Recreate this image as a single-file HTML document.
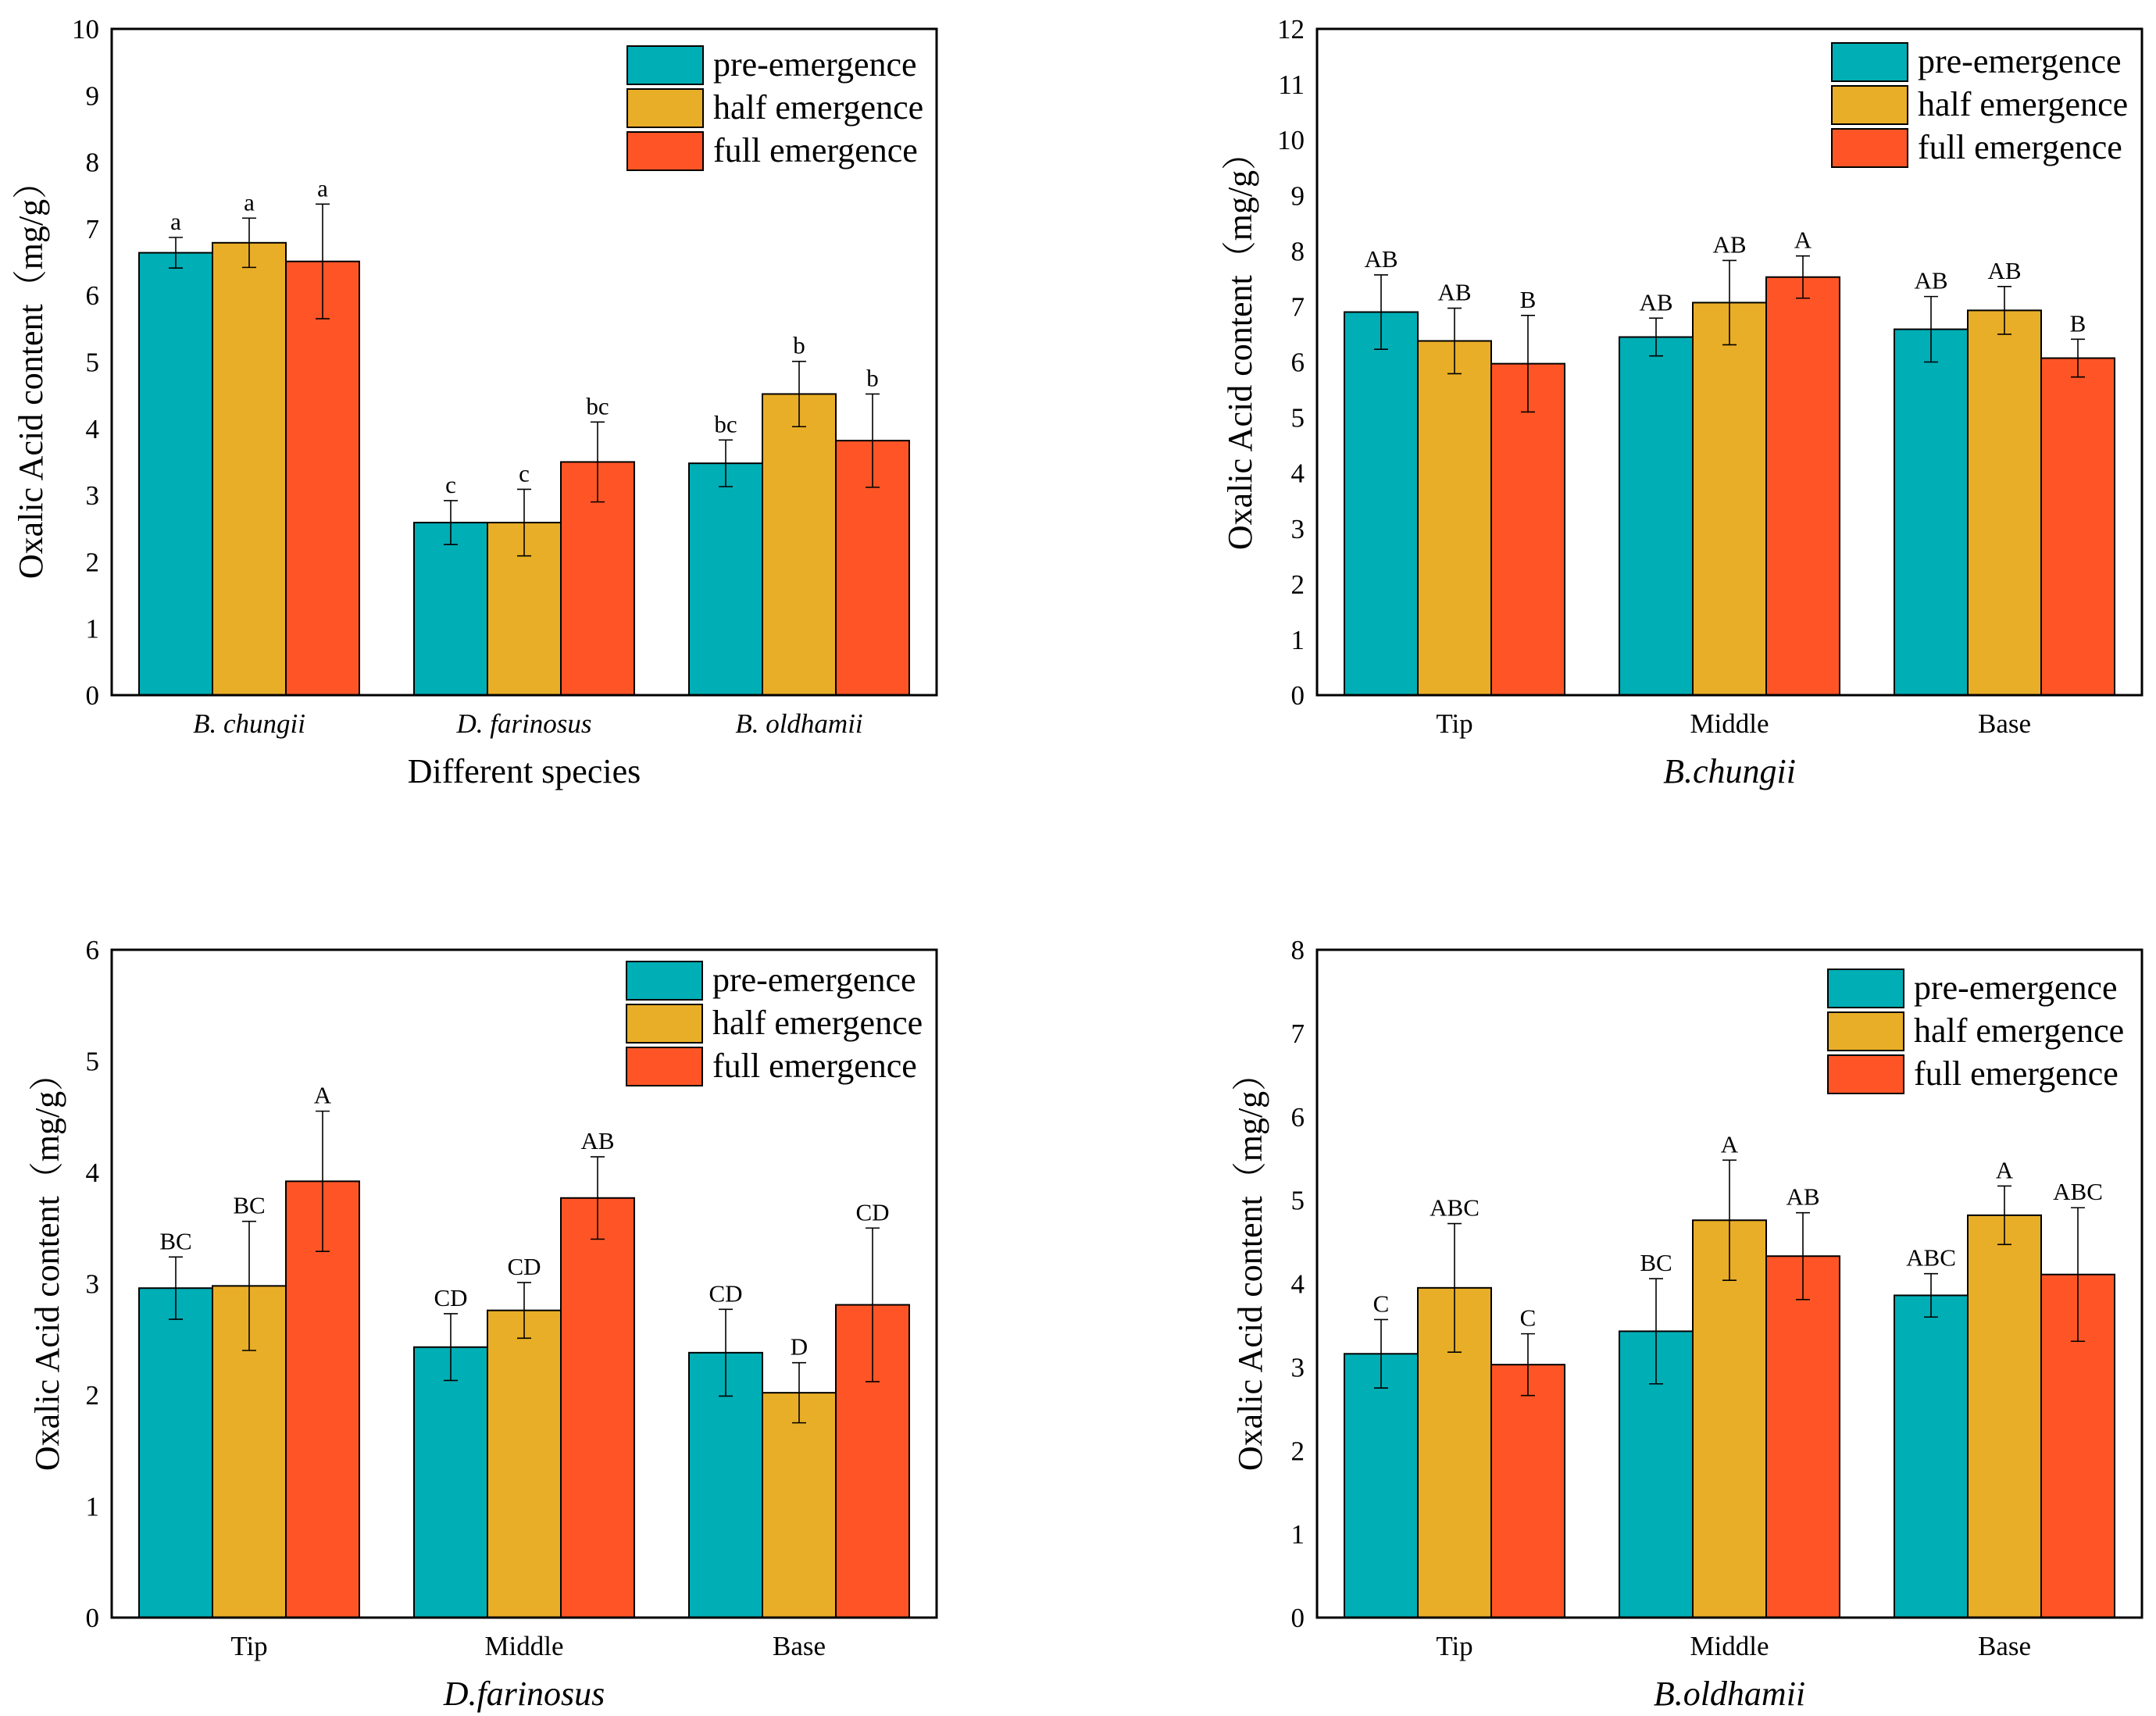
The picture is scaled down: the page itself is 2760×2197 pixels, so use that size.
<!DOCTYPE html>
<html><head><meta charset="utf-8"><style>
html,body{margin:0;padding:0;background:#fff}
svg{display:block}
svg text{font-family:"Liberation Serif","DejaVu Serif","Noto Serif CJK SC",serif}
</style></head><body>
<svg id="fig" width="2760" height="2197" viewBox="0 0 2760 2197" xmlns="http://www.w3.org/2000/svg" font-family="Liberation Serif, DejaVu Serif, serif"></svg>
<script>
// ---- data ----
const seriesNames = ["pre-emergence", "half emergence", "full emergence"];
const p1Categories = ["B. chungii", "D. farinosus", "B. oldhamii"];
const p1Values = [[6.64, 6.79, 6.51], [2.59, 2.59, 3.50], [3.48, 4.52, 3.82]];
const p1Errors = [[0.23, 0.37, 0.86], [0.33, 0.50, 0.60], [0.35, 0.49, 0.70]];
const p1Letters = [["a", "a", "a"], ["c", "c", "bc"], ["bc", "b", "b"]];
const p1Ticks = [0,1,2,3,4,5,6,7,8,9,10];

const partCategories = ["Tip", "Middle", "Base"];
const p2Values = [[6.90, 6.38, 5.97], [6.45, 7.07, 7.53], [6.59, 6.93, 6.07]];
const p2Errors = [[0.67, 0.59, 0.87], [0.34, 0.76, 0.38], [0.59, 0.43, 0.34]];
const p2Letters = [["AB", "AB", "B"], ["AB", "AB", "A"], ["AB", "AB", "B"]];
const p2Ticks = [0,1,2,3,4,5,6,7,8,9,10,11,12];

const p3Values = [[2.96, 2.98, 3.92], [2.43, 2.76, 3.77], [2.38, 2.02, 2.81]];
const p3Errors = [[0.28, 0.58, 0.63], [0.30, 0.25, 0.37], [0.39, 0.27, 0.69]];
const p3Letters = [["BC", "BC", "A"], ["CD", "CD", "AB"], ["CD", "D", "CD"]];
const p3Ticks = [0,1,2,3,4,5,6];

const p4Values = [[3.16, 3.95, 3.03], [3.43, 4.76, 4.33], [3.86, 4.82, 4.11]];
const p4Errors = [[0.41, 0.77, 0.37], [0.63, 0.72, 0.52], [0.26, 0.35, 0.80]];
const p4Letters = [["C", "ABC", "C"], ["BC", "A", "AB"], ["ABC", "A", "ABC"]];
const p4Ticks = [0,1,2,3,4,5,6,7,8];

const colors = ["#00AEB5", "#E9AE27", "#FF5526"];
const NS = "http://www.w3.org/2000/svg";
const svg = document.getElementById("fig");

function mk(tag, attrs, parent, text) {
  const e = document.createElementNS(NS, tag);
  for (const k in attrs) e.setAttribute(k, attrs[k]);
  if (text !== undefined) e.textContent = text;
  (parent || svg).appendChild(e);
  return e;
}

function panel(cfg) {
  const g = mk("g", {});
  
  
  const L = cfg.x, T = cfg.y, W = 1056, H = cfg.h;
  const maxV = cfg.ticks[cfg.ticks.length - 1];
  const yS = v => T + H - v / maxV * H;
  const band = W / cfg.cats.length;
  const bw = 94;
  const xS = (ci, si) => L + band * ci + band / 2 - 1.5 * bw + si * bw;

  cfg.vals.forEach((grp, ci) => {
    grp.forEach((v, si) => {
      const r = mk("rect", {x: xS(ci, si), y: yS(v), width: bw, height: yS(0) - yS(v), fill: colors[si], stroke: "#000", "stroke-width": 2}, g);
      
      
    });
  });
  cfg.vals.forEach((grp, ci) => {
    grp.forEach((v, si) => {
      const cx = xS(ci, si) + bw / 2, e = cfg.errs[ci][si];
      const y1 = yS(v + e), y2 = yS(v - e);
      const eg = mk("g", {stroke: "#000", "stroke-width": 1.6}, g);
      
      
      mk("line", {x1: cx, x2: cx, y1: y1, y2: y2}, eg);
      mk("line", {x1: cx - 9, x2: cx + 9, y1: y1, y2: y1}, eg);
      mk("line", {x1: cx - 9, x2: cx + 9, y1: y2, y2: y2}, eg);
      const t = mk("text", {x: cx, y: y1 - 10, "text-anchor": "middle", "font-size": 31}, g, cfg.lets[ci][si]);
      
      
    });
  });
  const fr = mk("rect", {x: L, y: T, width: W, height: H, fill: "none", stroke: "#000", "stroke-width": 3}, g);
  
  
  cfg.ticks.forEach(tv => {
    const t = mk("text", {x: L - 16, y: yS(tv) + 12, "text-anchor": "end", "font-size": 35}, g, String(tv));
    
    
  });
  cfg.cats.forEach((c, ci) => {
    const t = mk("text", {x: L + band * ci + band / 2, y: T + H + 48, "text-anchor": "middle", "font-size": 35, "font-style": cfg.italicCats ? "italic" : "normal"}, g, c);
    
    
  });
  const xt = mk("text", {x: L + W / 2, y: T + H + 112, "text-anchor": "middle", "font-size": 44, "font-style": cfg.italicTitle ? "italic" : "normal"}, g, cfg.xTitle);
  
  
  const yt = mk("text", {x: 0, y: 0, "text-anchor": "middle", "font-size": 44, transform: `translate(${cfg.ytx},${cfg.yty}) rotate(-90)`}, g, "Oxalic Acid content（mg/g）");
  
  
  const lg = mk("g", {}, g);
  
  
  seriesNames.forEach((n, i) => {
    const ly = T + cfg.legY + i * 55;
    const sw = mk("rect", {x: L + cfg.legX, y: ly, width: 97, height: 49, fill: colors[i], stroke: "#000", "stroke-width": 2}, lg);
    
    
    const lt = mk("text", {x: L + cfg.legX + 110, y: ly + 38, "font-size": 44}, lg, n);
    
    
  });
}

panel({name: "panel-species", x: 143, y: 37, h: 853, ticks: p1Ticks, cats: p1Categories, vals: p1Values, errs: p1Errors, lets: p1Letters, italicCats: true, italicTitle: false, xTitle: "Different species", ytx: 54, yty: 476, legX: 660, legY: 22});
panel({name: "panel-b-chungii", x: 1686, y: 37, h: 853, ticks: p2Ticks, cats: partCategories, vals: p2Values, errs: p2Errors, lets: p2Letters, italicCats: false, italicTitle: true, xTitle: "B.chungii", ytx: 1602, yty: 439, legX: 659, legY: 18});
panel({name: "panel-d-farinosus", x: 143, y: 1216, h: 855, ticks: p3Ticks, cats: partCategories, vals: p3Values, errs: p3Errors, lets: p3Letters, italicCats: false, italicTitle: true, xTitle: "D.farinosus", ytx: 75, yty: 1618, legX: 659, legY: 15});
panel({name: "panel-b-oldhamii", x: 1686, y: 1216, h: 855, ticks: p4Ticks, cats: partCategories, vals: p4Values, errs: p4Errors, lets: p4Letters, italicCats: false, italicTitle: true, xTitle: "B.oldhamii", ytx: 1615, yty: 1618, legX: 654, legY: 25});
</script>
</body></html>
